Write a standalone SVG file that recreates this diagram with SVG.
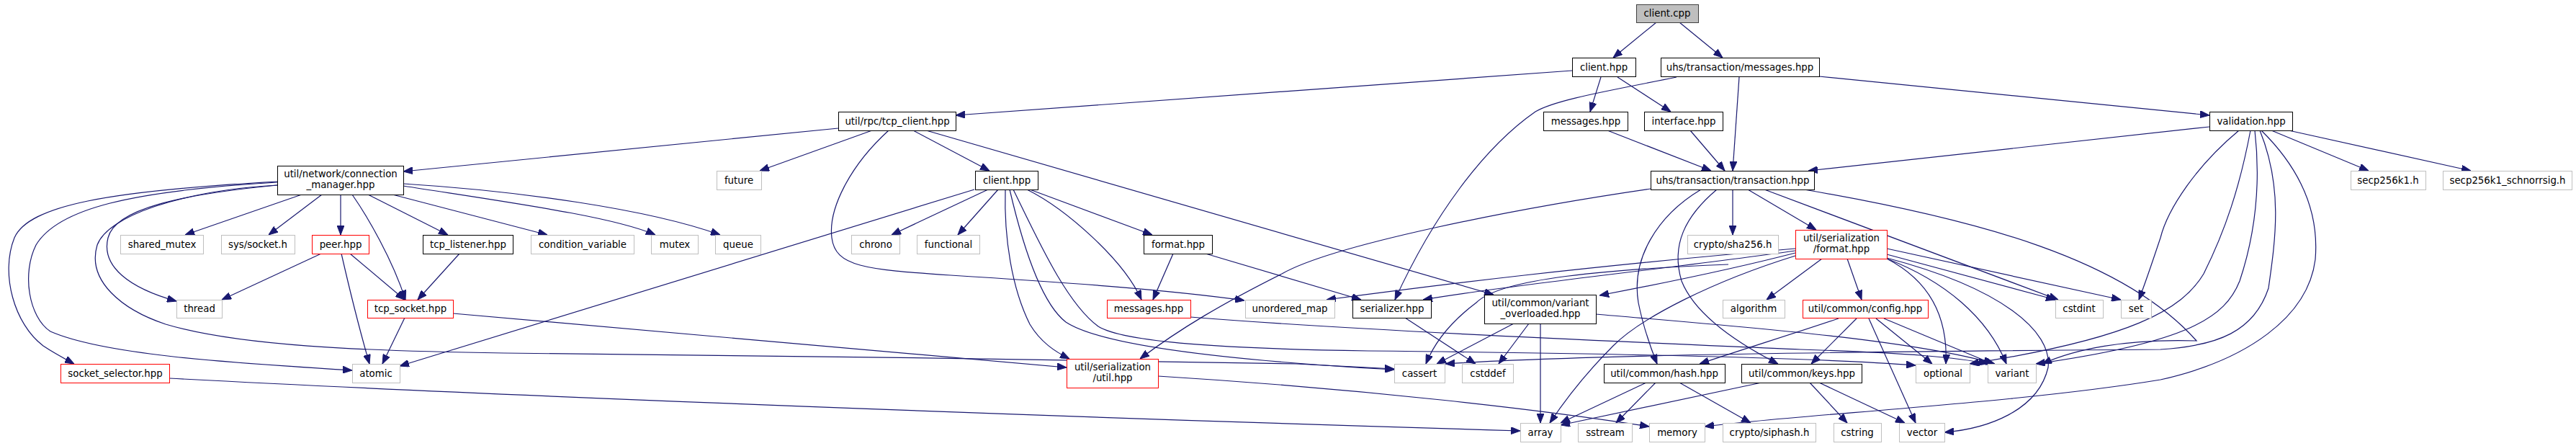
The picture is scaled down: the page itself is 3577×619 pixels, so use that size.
<svg xmlns="http://www.w3.org/2000/svg" width="3577" height="619" viewBox="0 0 3577 619">
<defs>
<marker id="a" markerUnits="userSpaceOnUse" markerWidth="13" markerHeight="10" refX="13" refY="5" orient="auto"><path d="M0,0 L13,5 L0,10 z" fill="#191970" stroke="#191970" stroke-width="1"/></marker>
<style>
rect{fill:#fff;stroke:#000;stroke-width:1}
.g rect{stroke:#bfbfbf}
.r rect{stroke:#ff0000}
.root rect{fill:#bfbfbf;stroke:#404040}
text{font-family:"DejaVu Sans","Liberation Sans",sans-serif;font-size:13.33px;text-anchor:middle;fill:#000}
#edges path{fill:none;stroke:#191970;stroke-width:1.2;marker-end:url(#a)}
</style>
</defs>
<rect x="0" y="0" width="3577" height="619" style="fill:#fff;stroke:none"/>
<g id="edges">
<path d="M2300,31 L2240,80"/>
<path d="M2332,31 L2392,80"/>
<path d="M2183,98 L1327,160"/>
<path d="M2223,107 L2208,155"/>
<path d="M2246,107 L2320,155"/>
<path d="M2415,107 L2406,237"/>
<path d="M2526,106 L3068,160"/>
<path d="M2328,107 C2240,125 2160,138 2132,155 C2060,205 1990,300 1937,416"/>
<path d="M2232,181 L2376,237"/>
<path d="M2347,181 L2395,237"/>
<path d="M3068,176 L2511,237"/>
<path d="M3154,181 L3289,237"/>
<path d="M3178,181 L3431,237"/>
<path d="M1164,178 L560,238"/>
<path d="M1211,181 L1055,237"/>
<path d="M1268,181 L1374,237"/>
<path d="M1286,181 L2074,409"/>
<path d="M1234,181 C1180,230 1150,290 1155,330 C1160,370 1200,374 1320,382 C1480,392 1620,402 1728,417"/>
<path d="M419,270 L257,326"/>
<path d="M447,270 L373,326"/>
<path d="M473,270 L473,326"/>
<path d="M489,270 C510,300 545,360 563,416"/>
<path d="M511,270 L622,326"/>
<path d="M545,270 L760,326"/>
<path d="M560,258 C700,280 850,300 910,326"/>
<path d="M560,255 C720,265 900,290 1000,326"/>
<path d="M385,257 C250,270 160,290 150,330 C140,370 180,400 245,418"/>
<path d="M385,252 C150,265 40,285 20,330 C0,380 20,450 60,480 C75,490 90,498 103,505"/>
<path d="M385,253 C180,265 80,290 50,340 C30,380 40,440 70,460 C150,495 350,505 489,514"/>
<path d="M385,257 C250,265 150,300 135,340 C120,390 170,430 230,450 C330,480 500,487 700,490 C1000,494 1500,498 1800,505 L1936,512"/>
<path d="M1353,263 L555,508"/>
<path d="M1372,263 L1238,326"/>
<path d="M1386,263 L1330,326"/>
<path d="M1396,263 C1394,330 1405,400 1430,450 C1445,475 1465,488 1485,498"/>
<path d="M1402,263 C1420,340 1445,420 1480,447 C1530,480 1700,500 1936,513"/>
<path d="M1407,263 C1440,330 1480,420 1525,453 C1560,475 1700,484 1900,487 C2200,490 2500,495 2660,507"/>
<path d="M1426,263 C1480,290 1560,360 1585,416"/>
<path d="M1430,263 L1600,326"/>
<path d="M1629,352 L1601,416"/>
<path d="M1674,352 L1890,416"/>
<path d="M638,352 L580,416"/>
<path d="M446,352 L308,416"/>
<path d="M486,352 L562,416"/>
<path d="M474,352 C485,400 500,460 513,505"/>
<path d="M562,441 L531,505"/>
<path d="M629,435 L1481,510"/>
<path d="M235,525 C700,550 1500,580 2111,598"/>
<path d="M1653,440 C1900,460 2300,476 2500,485 C2650,490 2720,496 2760,505"/>
<path d="M1608,522 C1900,540 2150,570 2290,592"/>
<path d="M1951,441 L2049,505"/>
<path d="M2102,449 L1995,505"/>
<path d="M2123,449 L2081,505"/>
<path d="M2139,449 L2139,587"/>
<path d="M2216,436 C2400,452 2650,470 2770,505"/>
<path d="M2292,262 C2100,290 1850,340 1780,380 C1700,420 1640,455 1583,498"/>
<path d="M2362,263 C2300,300 2265,360 2275,420 C2283,460 2295,490 2301,505"/>
<path d="M2384,263 C2340,300 2320,340 2335,390 C2355,440 2420,480 2469,505"/>
<path d="M2406,263 L2406,326"/>
<path d="M2427,263 L2522,319"/>
<path d="M2450,263 L2858,416"/>
<path d="M2505,263 C2750,305 2950,360 3050,473 C2950,470 2880,485 2836,505"/>
<path d="M2530,359 L2453,416"/>
<path d="M2565,359 L2585,416"/>
<path d="M2620,359 C2680,390 2705,440 2702,505"/>
<path d="M2620,359 C2700,390 2760,440 2786,505"/>
<path d="M2620,358 C2780,400 2850,460 2844,510 C2830,570 2760,595 2700,600"/>
<path d="M2620,353 L2854,416"/>
<path d="M2620,345 L2945,416"/>
<path d="M2553,442 C2500,460 2420,485 2360,505"/>
<path d="M2578,442 L2515,505"/>
<path d="M2595,442 L2660,587"/>
<path d="M2605,442 L2683,505"/>
<path d="M2616,442 L2767,505"/>
<path d="M2446,531 L2167,590"/>
<path d="M2513,531 L2565,587"/>
<path d="M2526,531 L2645,587"/>
<path d="M2286,531 L2167,587"/>
<path d="M2299,531 L2244,587"/>
<path d="M2332,531 L2431,587"/>
<path d="M2400,367 C2200,375 2080,390 2050,420 C2010,450 1990,480 1980,505"/>
<path d="M2493,345 C2200,370 2000,395 1842,416"/>
<path d="M2493,348 C2300,375 2100,395 1976,416"/>
<path d="M2493,351 C2400,375 2300,395 2221,410"/>
<path d="M2493,355 C2380,390 2280,440 2240,480 C2200,520 2170,560 2152,587"/>
<path d="M3109,181 C3050,230 3010,290 3000,330 C2990,360 2980,390 2970,416"/>
<path d="M3125,181 C3110,260 3090,320 3060,380 C3030,430 2960,470 2735,505"/>
<path d="M3131,181 C3140,260 3130,330 3110,390 C3090,440 3040,475 2827,505"/>
<path d="M3138,181 C3170,260 3160,330 3150,400 C3130,460 3080,480 3000,485 C2600,488 2200,492 2007,505"/>
<path d="M3140,181 C3200,240 3220,300 3215,360 C3205,440 3120,500 3000,527 C2800,560 2500,575 2367,592"/>
</g>
<g id="n1" class="root"><rect x="2272.5" y="6.5" width="86" height="25"/><text x="2315" y="23">client.cpp</text></g>
<g id="n2"><rect x="2183.5" y="80.5" width="88" height="26"/><text x="2227" y="97.5">client.hpp</text></g>
<g id="n3"><rect x="2306.5" y="80.5" width="220" height="26"/><text x="2416" y="97.5">uhs/transaction/messages.hpp</text></g>
<g id="n4"><rect x="1164.5" y="155.5" width="163" height="26"/><text x="1246" y="172.5">util/rpc/tcp_client.hpp</text></g>
<g id="n5"><rect x="2143.5" y="155.5" width="117" height="26"/><text x="2202" y="172.5">messages.hpp</text></g>
<g id="n6"><rect x="2283.5" y="155.5" width="109" height="26"/><text x="2338" y="172.5">interface.hpp</text></g>
<g id="n7"><rect x="3068.5" y="155.5" width="115" height="26"/><text x="3126" y="172.5">validation.hpp</text></g>
<g id="n8"><rect x="385.5" y="230.5" width="175" height="40"/><text x="473" y="246">util/network/connection</text><text x="473" y="261">_manager.hpp</text></g>
<g id="n9" class="g"><rect x="995.5" y="237.5" width="62" height="26"/><text x="1026" y="254.5">future</text></g>
<g id="n10"><rect x="1354.5" y="237.5" width="87" height="26"/><text x="1398" y="254.5">client.hpp</text></g>
<g id="n11"><rect x="2292.5" y="237.5" width="227" height="26"/><text x="2406" y="254.5">uhs/transaction/transaction.hpp</text></g>
<g id="n12" class="g"><rect x="3264.5" y="237.5" width="104" height="26"/><text x="3316" y="254.5">secp256k1.h</text></g>
<g id="n13" class="g"><rect x="3392.5" y="237.5" width="179" height="26"/><text x="3482" y="254.5">secp256k1_schnorrsig.h</text></g>
<g id="n14" class="g"><rect x="167.5" y="326.5" width="115" height="26"/><text x="225" y="343.5">shared_mutex</text></g>
<g id="n15" class="g"><rect x="307.5" y="326.5" width="102" height="26"/><text x="358" y="343.5">sys/socket.h</text></g>
<g id="n16" class="r"><rect x="433.5" y="326.5" width="79" height="26"/><text x="473" y="343.5">peer.hpp</text></g>
<g id="n17"><rect x="587.5" y="326.5" width="125" height="26"/><text x="650" y="343.5">tcp_listener.hpp</text></g>
<g id="n18" class="g"><rect x="737.5" y="326.5" width="143" height="26"/><text x="809" y="343.5">condition_variable</text></g>
<g id="n19" class="g"><rect x="904.5" y="326.5" width="65" height="26"/><text x="937" y="343.5">mutex</text></g>
<g id="n20" class="g"><rect x="993.5" y="326.5" width="63" height="26"/><text x="1025" y="343.5">queue</text></g>
<g id="n21" class="g"><rect x="1182.5" y="326.5" width="67" height="26"/><text x="1216" y="343.5">chrono</text></g>
<g id="n22" class="g"><rect x="1273.5" y="326.5" width="87" height="26"/><text x="1317" y="343.5">functional</text></g>
<g id="n23"><rect x="1588.5" y="326.5" width="95" height="26"/><text x="1636" y="343.5">format.hpp</text></g>
<g id="n24" class="g"><rect x="2343.5" y="326.5" width="126" height="26"/><text x="2406" y="343.5">crypto/sha256.h</text></g>
<g id="n25" class="r"><rect x="2493.5" y="319.5" width="127" height="40"/><text x="2557" y="335">util/serialization</text><text x="2557" y="350">/format.hpp</text></g>
<g id="n26" class="g"><rect x="245.5" y="416.5" width="63" height="25"/><text x="277" y="433">thread</text></g>
<g id="n27" class="r"><rect x="510.5" y="416.5" width="119" height="25"/><text x="570" y="433">tcp_socket.hpp</text></g>
<g id="n28" class="r"><rect x="1537.5" y="416.5" width="116" height="25"/><text x="1595" y="433">messages.hpp</text></g>
<g id="n29" class="g"><rect x="1729.5" y="416.5" width="124" height="25"/><text x="1791" y="433">unordered_map</text></g>
<g id="n30"><rect x="1878.5" y="416.5" width="109" height="25"/><text x="1933" y="433">serializer.hpp</text></g>
<g id="n31"><rect x="2061.5" y="409.5" width="155" height="40"/><text x="2139" y="425">util/common/variant</text><text x="2139" y="440">_overloaded.hpp</text></g>
<g id="n32" class="g"><rect x="2392.5" y="416.5" width="86" height="25"/><text x="2435" y="433">algorithm</text></g>
<g id="n33" class="r"><rect x="2503.5" y="416.5" width="174" height="25"/><text x="2590" y="433">util/common/config.hpp</text></g>
<g id="n34" class="g"><rect x="2854.5" y="416.5" width="66" height="25"/><text x="2887" y="433">cstdint</text></g>
<g id="n35" class="g"><rect x="2945.5" y="416.5" width="42" height="25"/><text x="2966" y="433">set</text></g>
<g id="n36" class="r"><rect x="84.5" y="505.5" width="151" height="26"/><text x="160" y="522.5">socket_selector.hpp</text></g>
<g id="n37" class="g"><rect x="489.5" y="505.5" width="66" height="26"/><text x="522" y="522.5">atomic</text></g>
<g id="n38" class="r"><rect x="1481.5" y="498.5" width="127" height="40"/><text x="1545" y="514">util/serialization</text><text x="1545" y="529">/util.hpp</text></g>
<g id="n39" class="g"><rect x="1936.5" y="505.5" width="70" height="26"/><text x="1971" y="522.5">cassert</text></g>
<g id="n40" class="g"><rect x="2030.5" y="505.5" width="71" height="26"/><text x="2066" y="522.5">cstddef</text></g>
<g id="n41"><rect x="2227.5" y="505.5" width="168" height="26"/><text x="2311" y="522.5">util/common/hash.hpp</text></g>
<g id="n42"><rect x="2418.5" y="505.5" width="167" height="26"/><text x="2502" y="522.5">util/common/keys.hpp</text></g>
<g id="n43" class="g"><rect x="2660.5" y="505.5" width="75" height="26"/><text x="2698" y="522.5">optional</text></g>
<g id="n44" class="g"><rect x="2760.5" y="505.5" width="67" height="26"/><text x="2794" y="522.5">variant</text></g>
<g id="n45" class="g"><rect x="2111.5" y="587.5" width="56" height="26"/><text x="2139" y="604.5">array</text></g>
<g id="n46" class="g"><rect x="2191.5" y="587.5" width="75" height="26"/><text x="2229" y="604.5">sstream</text></g>
<g id="n47" class="g"><rect x="2290.5" y="587.5" width="77" height="26"/><text x="2329" y="604.5">memory</text></g>
<g id="n48" class="g"><rect x="2392.5" y="587.5" width="129" height="26"/><text x="2457" y="604.5">crypto/siphash.h</text></g>
<g id="n49" class="g"><rect x="2546.5" y="587.5" width="66" height="26"/><text x="2579" y="604.5">cstring</text></g>
<g id="n50" class="g"><rect x="2637.5" y="587.5" width="63" height="26"/><text x="2669" y="604.5">vector</text></g>
</svg>
